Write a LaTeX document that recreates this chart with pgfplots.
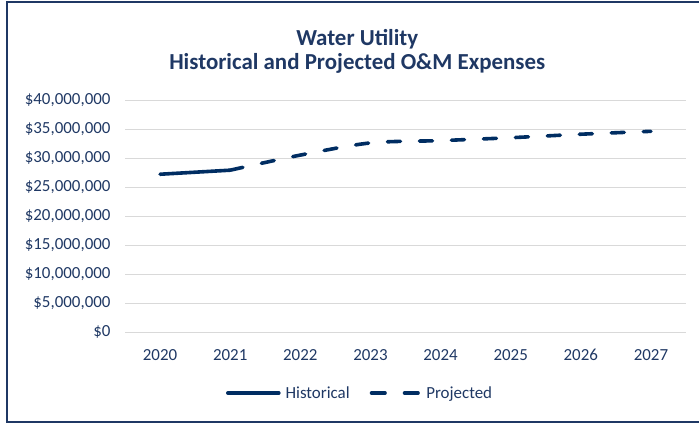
\documentclass[border=0pt]{standalone}
\usepackage{fontspec}
\setmainfont{Carlito}
\usepackage{pgfplots}
\pgfplotsset{compat=1.18}
\definecolor{navy}{RGB}{0,45,98}
\definecolor{txt}{RGB}{31,56,100}
\definecolor{gridc}{RGB}{217,217,217}
\pgfplotsset{
    histleg/.style={legend image code/.code={%
        \draw[##1] (0bp,0bp) -- (51bp,0bp);}},
    projleg/.style={legend image code/.code={%
        \draw[##1, dash pattern=on 13.5bp off 19.5bp] (0bp,0bp) -- (48bp,0bp);}},
}

\begin{document}
\begin{tikzpicture}[x=1bp,y=1bp]
\path[use as bounding box] (0,0) rectangle (699,423);
\draw[txt, line width=2bp] (6.5,1.3) rectangle (705,420.5);
\begin{axis}[
    at={(125bp,91bp)}, anchor=south west,
    scale only axis, width=561bp, height=232bp,
    xmin=2019.5, xmax=2027.5,
    ymin=0, ymax=40000000,
    scaled y ticks=false,
    xtick={2020,2021,...,2027},
    xticklabels={2020,2021,2022,2023,2024,2025,2026,2027},
    ytick={0,5000000,10000000,15000000,20000000,25000000,30000000,35000000,40000000},
    yticklabels={{\$0},{\$5,000,000},{\$10,000,000},{\$15,000,000},{\$20,000,000},
                 {\$25,000,000},{\$30,000,000},{\$35,000,000},{\$40,000,000}},
    major tick length=0pt,
    axis x line*=bottom, axis y line*=left,
    x axis line style={gridc, line width=1bp, -},
    y axis line style={draw=none},
    ymajorgrids, grid style={gridc, line width=1bp},
    tick label style={font=\fontsize{17}{20}\selectfont, text=txt},
    y tick label style={xshift=-11bp},
    x tick label style={yshift=-14bp},
    title={Water Utility\\Historical and Projected O\&M Expenses},
    title style={at={(0.414,1.182)}, anchor=center, align=center,
        font=\fontsize{23}{24}\selectfont\bfseries, text=txt},
    legend style={at={(0.419,-0.263)}, anchor=center, draw=none,
        font=\fontsize{17}{20}\selectfont, text=txt,
        /tikz/every odd column/.append style={column sep=3bp},
        /tikz/every even column/.append style={column sep=18bp}},
    legend columns=2,
]
\addplot[navy, line width=3.6bp, line cap=round, smooth, histleg] coordinates {
    (2020,27200000) (2021,27900000)
};
\addlegendentry{Historical}
\addplot[navy, line width=3.6bp, line cap=round, smooth, dash pattern=on 13bp off 19bp, projleg] coordinates {
    (2021,27900000) (2022,30500000) (2023,32600000) (2024,33000000)
    (2025,33500000) (2026,34100000) (2027,34600000)
};
\addlegendentry{Projected}
\end{axis}
\end{tikzpicture}
\end{document}
